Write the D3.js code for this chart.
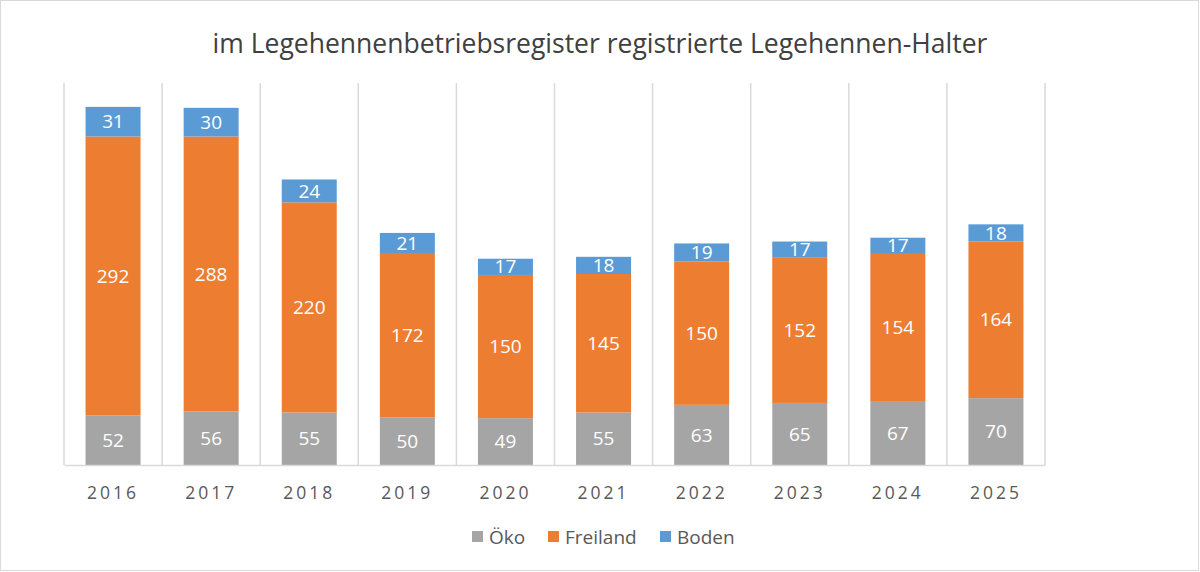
<!DOCTYPE html>
<html>
<head>
<meta charset="utf-8">
<script src="https://cdn.jsdelivr.net/npm/d3@7"></script>
<style>
  body { margin: 0; background: #fff; }
  svg { display: block; font-family: "Open Sans", sans-serif; }
</style>
</head>
<body>
<svg id="chart" width="1200" height="572"></svg>
<script>
var years = ['2016', '2017', '2018', '2019', '2020', '2021', '2022', '2023', '2024', '2025'];
var oeko = [52, 56, 55, 50, 49, 55, 63, 65, 67, 70];
var freiland = [292, 288, 220, 172, 150, 145, 150, 152, 154, 164];
var boden = [31, 30, 24, 21, 17, 18, 19, 17, 17, 18];
var seriesNames = ['Öko', 'Freiland', 'Boden'];
var seriesColors = ['#A5A5A5', '#ED7D31', '#5B9BD5'];

var svg = d3.select('#chart');

// outer border
svg.append('rect')
    .attr('x', 0.5).attr('y', 0.5)
    .attr('width', 1198).attr('height', 570)
    .attr('fill', '#fff')
    .attr('stroke', '#d9d9d9');

// title
svg.append('text')
    .attr('x', 600).attr('y', 53)
    .attr('text-anchor', 'middle')
    .attr('font-size', 26.5)
    .attr('fill', '#404040')
    .text('im Legehennenbetriebsregister registrierte Legehennen-Halter');

// build table from arrays
var table = years.map(function (y, i) {
    return { year: y, 'Öko': oeko[i], 'Freiland': freiland[i], 'Boden': boden[i] };
});
var stacked = d3.stack().keys(seriesNames)(table);

var x = d3.scaleBand().domain(years).range([64, 1045]).paddingInner(0).paddingOuter(0);
var y = d3.scaleLinear().domain([0, 400]).range([465, 83]);
var barW = 55;

// vertical category gridlines
var gridX = years.map(function (d) { return x(d); }).concat([x.range()[1]]);
svg.append('g').selectAll('line')
    .data(gridX)
    .enter()
    .append('line')
    .attr('x1', function (d) { return d; })
    .attr('x2', function (d) { return d; })
    .attr('y1', y.range()[1])
    .attr('y2', y(0))
    .attr('stroke', '#d9d9d9')
    .attr('stroke-width', 1.5);

// bars
var layers = svg.append('g').selectAll('g')
    .data(stacked)
    .enter()
    .append('g')
    .attr('fill', function (d, i) { return seriesColors[i]; });

layers.selectAll('rect')
    .data(function (d) { return d; })
    .enter()
    .append('rect')
    .attr('x', function (d) { return x(d.data.year) + (x.bandwidth() - barW) / 2; })
    .attr('y', function (d) { return y(d[1]); })
    .attr('width', barW)
    .attr('height', function (d) { return y(d[0]) - y(d[1]); });

// value labels
layers.selectAll('text')
    .data(function (d) { return d; })
    .enter()
    .append('text')
    .attr('x', function (d) { return x(d.data.year) + x.bandwidth() / 2; })
    .attr('y', function (d) { return (y(d[0]) + y(d[1])) / 2; })
    .attr('dy', '0.35em')
    .attr('text-anchor', 'middle')
    .attr('font-size', 19)
    .attr('fill', '#fff')
    .text(function (d) { return d[1] - d[0]; });

// x axis
var xAxis = svg.append('g')
    .attr('transform', 'translate(0,' + y(0) + ')')
    .call(d3.axisBottom(x).tickSize(0).tickPadding(18));
xAxis.select('.domain').attr('stroke', '#d9d9d9').attr('stroke-width', 1.5);
xAxis.selectAll('text')
    .attr('font-family', '"Open Sans", sans-serif')
    .attr('font-size', 17.5)
    .attr('letter-spacing', '3px')
    .attr('fill', '#595959')
    .attr('dy', '0.9em');

// legend
var legendX = [472, 548, 660];
var legend = svg.append('g').selectAll('g')
    .data(seriesNames)
    .enter()
    .append('g')
    .attr('transform', function (d, i) { return 'translate(' + legendX[i] + ',537)'; });
legend.append('rect')
    .attr('x', 0).attr('y', -6)
    .attr('width', 11).attr('height', 11)
    .attr('fill', function (d, i) { return seriesColors[i]; });
legend.append('text')
    .attr('x', 17).attr('y', 0)
    .attr('dy', '0.35em')
    .attr('font-size', 19)
    .attr('fill', '#595959')
    .text(function (d) { return d; });
</script>
</body>
</html>
